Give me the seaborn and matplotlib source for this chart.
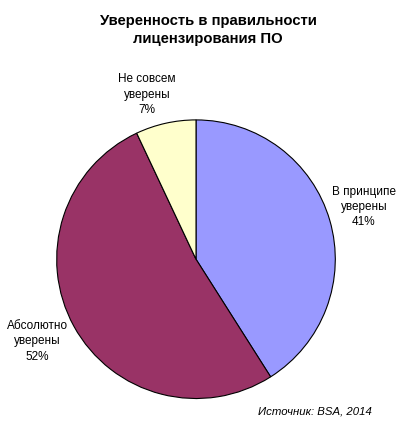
import matplotlib
matplotlib.use("Agg")
import matplotlib.pyplot as plt
import seaborn as sns

# data
labels = ["В принципе\nуверены", "Абсолютно\nуверены", "Не совсем\nуверены"]
shares = [41, 52, 7]
colors = ["#9999FF", "#993366", "#FFFFCC"]

sns.set_style("white")
plt.rcParams["font.family"] = ["Liberation Sans", "DejaVu Sans"]
plt.rcParams["text.color"] = "black"

fig = plt.figure(figsize=(4.0, 4.22), dpi=100)
ax = fig.add_axes([0.14, 0.054, 0.70, 0.6635])

ax.pie(
    shares,
    colors=colors,
    startangle=90,
    counterclock=False,
    wedgeprops={"edgecolor": "black", "linewidth": 0.8},
)
ax.set_xlim(-1.005, 1.005)
ax.set_ylim(-1.005, 1.005)
ax.set_aspect("equal")

# title
fig.text(0.52, 0.929, "Уверенность в правильности\nлицензирования ПО",
         ha="center", va="center", fontsize=10.7, fontweight="bold",
         linespacing=1.4)

# slice labels (placed like the Excel original)
label_pos = [(0.91, 0.51), (0.093, 0.191), (0.368, 0.776)]
for (x, y), lab, val in zip(label_pos, labels, shares):
    fig.text(x, y, f"{lab}\n{val}%", ha="center", va="center",
             fontsize=8.5, linespacing=1.35)

fig.text(0.93, 0.025, "Источник: BSA, 2014", ha="right", va="center",
         fontsize=8.2, style="italic")

fig.savefig("out.png", dpi=100, facecolor="white")
